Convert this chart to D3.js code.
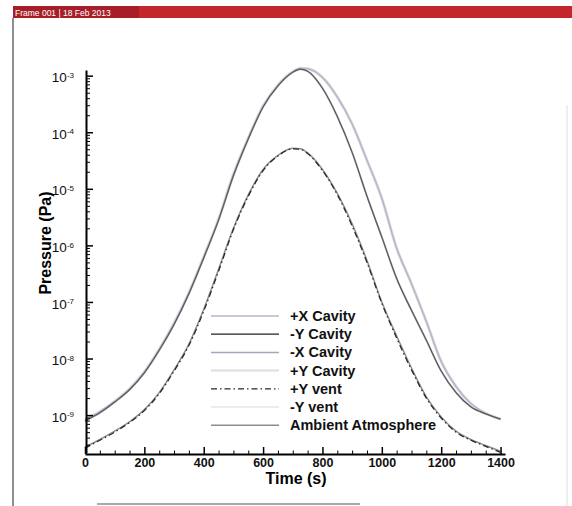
<!DOCTYPE html>
<html>
<head>
<meta charset="utf-8">
<script src="https://cdn.jsdelivr.net/npm/d3@7"></script>
<style>
  body { margin: 0; background: #fff; }
  text { font-family: "Liberation Sans", Arial, sans-serif; }
</style>
</head>
<body>
<svg id="main-vis"></svg>
<script>
// time samples (s)
const times = [0, 50, 100, 150, 200, 250, 300, 350, 400, 450, 500, 550, 600, 650, 700, 725,
  750, 800, 850, 900, 950, 1000, 1050, 1100, 1150, 1200, 1250, 1300, 1350, 1400];

// upper bundle, inner branch on the way down (Pa)
const cavityInner = [7.9e-10, 1.1e-9, 1.7e-9, 2.8e-9, 5.6e-9, 1.4e-8, 4.0e-8, 1.4e-7, 6.0e-7, 2.8e-6,
  1.7e-5, 7.6e-5, 2.8e-4, 6.6e-4, 1.15e-3, 1.3e-3, 1.2e-3, 6.0e-4, 1.9e-4, 4.4e-5,
  7.4e-6, 1.4e-6, 2.6e-7, 7.1e-8, 2.1e-8, 6.0e-9, 2.5e-9, 1.4e-9, 1.05e-9, 8.5e-10];

// upper bundle, outer branch (Pa)
const cavityOuter = [8.3e-10, 1.15e-9, 1.75e-9, 2.9e-9, 5.8e-9, 1.45e-8, 4.2e-8, 1.45e-7, 6.3e-7, 2.9e-6,
  1.8e-5, 7.9e-5, 2.9e-4, 6.8e-4, 1.17e-3, 1.35e-3, 1.32e-3, 9.3e-4, 4.2e-4, 1.4e-4,
  3.2e-5, 6.8e-6, 8.9e-7, 2.1e-7, 4.5e-8, 8.9e-9, 3.2e-9, 1.6e-9, 1.07e-9, 8.5e-10];

// lower bundle (Pa)
const ventLower = [2.6e-10, 3.6e-10, 5.0e-10, 7.4e-10, 1.2e-9, 2.4e-9, 6.0e-9, 1.7e-8, 6.9e-8, 3.5e-7,
  1.9e-6, 7.4e-6, 2.1e-5, 3.8e-5, 5.1e-5, 5.0e-5, 4.2e-5, 2.1e-5, 7.9e-6, 2.2e-6,
  5.0e-7, 9.5e-8, 2.3e-8, 6.3e-9, 2.0e-9, 8.9e-10, 5.0e-10, 3.6e-10, 2.8e-10, 2.2e-10];

const ambient = [2.7e-10, 3.7e-10, 5.2e-10, 7.6e-10, 1.25e-9, 2.5e-9, 6.3e-9, 1.8e-8, 7.4e-8, 3.8e-7,
  2.0e-6, 7.8e-6, 2.2e-5, 3.9e-5, 5.2e-5, 5.1e-5, 4.3e-5, 2.2e-5, 8.3e-6, 2.4e-6,
  5.4e-7, 1.0e-7, 2.5e-8, 6.8e-9, 2.1e-9, 9.3e-10, 5.2e-10, 3.7e-10, 2.9e-10, 2.3e-10];

const seriesNames = ["+X Cavity", "-Y Cavity", "-X Cavity", "+Y Cavity", "+Y vent", "-Y vent", "Ambient Atmosphere"];
const seriesValues = [cavityOuter, cavityInner, cavityInner, cavityOuter, ventLower, cavityInner, ambient];
const seriesColors = ["#b4b7cb", "#5a5a5a", "#a3a8bd", "#dedede", "#2a2a2a", "#ededed", "#8e8e8e"];
const seriesWidths = [1.5, 1.2, 1.5, 3, 1.3, 2.5, 1.5];
const seriesDash = [null, null, null, null, "6,3,1.5,3", null, null];

const xMajor = [0, 200, 400, 600, 800, 1000, 1200, 1400];
const yMajor = [1e-9, 1e-8, 1e-7, 1e-6, 1e-5, 1e-4, 1e-3];

const width = 572, height = 506;
const svg = d3.select("#main-vis").attr("width", width).attr("height", height);

// header bar
svg.append("rect").attr("x", 13).attr("y", 6).attr("width", width - 13).attr("height", 12).attr("fill", "#c4262e");
svg.append("rect").attr("x", 13).attr("y", 6).attr("width", 126).attr("height", 12).attr("fill", "#a81e28");
svg.append("text").attr("x", 15).attr("y", 15.5).attr("fill", "#fff").attr("font-size", 8.5)
  .text("Frame 001 | 18 Feb 2013");
// frame lines
svg.append("line").attr("x1", 13).attr("x2", 13).attr("y1", 18).attr("y2", height).attr("stroke", "#444").attr("stroke-width", 1.2);
svg.append("line").attr("x1", 567).attr("x2", 567).attr("y1", 105).attr("y2", height).attr("stroke", "#ddd").attr("stroke-width", 1);
svg.append("line").attr("x1", 97).attr("x2", 360).attr("y1", 504).attr("y2", 504).attr("stroke", "#aaa").attr("stroke-width", 2);

const x = d3.scaleLinear().domain([0, 1415]).range([85, 505]);
const y = d3.scaleLog().domain([Math.pow(10, -9.67), Math.pow(10, -2.9)]).range([453, 70]);

// curves
const line = d3.line().x(d => x(d[0])).y(d => y(d[1])).curve(d3.curveMonotoneX);
const drawOrder = [3, 5, 6, 0, 2, 1, 4];
drawOrder.forEach(i => {
  svg.append("path")
    .datum(times.map((t, k) => [t, seriesValues[i][k]]))
    .attr("d", line)
    .attr("fill", "none")
    .attr("stroke", seriesColors[i])
    .attr("stroke-width", seriesWidths[i])
    .attr("stroke-dasharray", seriesDash[i]);
});

// x axis
const xMinor = d3.range(50, 1401, 50).filter(v => v % 200 !== 0);
svg.append("g").attr("transform", "translate(0,454)")
  .call(d3.axisBottom(x).tickValues(xMinor).tickSize(-3.5).tickSizeOuter(0).tickFormat(""))
  .call(g => g.select(".domain").remove());
const xAxis = svg.append("g").attr("transform", "translate(0,454)")
  .call(d3.axisBottom(x).tickValues(xMajor).tickSize(-7).tickSizeOuter(0).tickPadding(4).tickFormat(d3.format("d")));
xAxis.select(".domain").attr("stroke-width", 2);
xAxis.selectAll(".tick line").attr("stroke-width", 1.5);
xAxis.selectAll(".tick text").attr("font-size", 12.5).attr("font-weight", "bold").attr("fill", "#111");

// y axis
const yMinor = [];
for (let e = -10; e <= -3; e++) {
  for (let k = 2; k <= 9; k++) {
    const v = k * Math.pow(10, e);
    if (v > y.domain()[0] && v < y.domain()[1]) yMinor.push(v);
  }
}
svg.append("g").attr("transform", "translate(86,0)")
  .call(d3.axisLeft(y).tickValues(yMinor).tickSize(-4).tickSizeOuter(0).tickFormat(""))
  .call(g => g.select(".domain").remove());
const yAxis = svg.append("g").attr("transform", "translate(86,0)")
  .call(d3.axisLeft(y).tickValues(yMajor).tickSize(-7).tickSizeOuter(0).tickPadding(12));
yAxis.select(".domain").attr("stroke-width", 2);
yAxis.selectAll(".tick line").attr("stroke-width", 1.5);
yAxis.selectAll(".tick text").each(function (d) {
  const t = d3.select(this).text(null).attr("font-size", 13.5).attr("fill", "#111").attr("dy", "0.45em");
  t.append("tspan").text("10");
  t.append("tspan").attr("dy", "-0.55em").attr("font-size", 8).text(Math.round(Math.log10(d)));
});

// axis titles
svg.append("text").attr("x", 296).attr("y", 484).attr("text-anchor", "middle")
  .attr("font-size", 16).attr("font-weight", "bold").text("Time (s)");
svg.append("text").attr("transform", "translate(51,243) rotate(-90)").attr("text-anchor", "middle")
  .attr("font-size", 16).attr("font-weight", "bold").text("Pressure (Pa)");

// legend
const legend = svg.append("g").attr("transform", "translate(211,316)");
seriesNames.forEach((name, i) => {
  const g = legend.append("g").attr("transform", `translate(0, ${i * 18.2})`);
  g.append("line").attr("x1", 0).attr("x2", 68).attr("y1", 0).attr("y2", 0)
    .attr("stroke", i === 1 ? "#222" : seriesColors[i]).attr("stroke-width", Math.min(seriesWidths[i], 2))
    .attr("stroke-dasharray", seriesDash[i]);
  g.append("text").attr("x", 79).attr("y", 5).attr("font-size", 14.5).attr("font-weight", "bold")
    .attr("fill", "#111").text(name);
});
</script>
</body>
</html>
